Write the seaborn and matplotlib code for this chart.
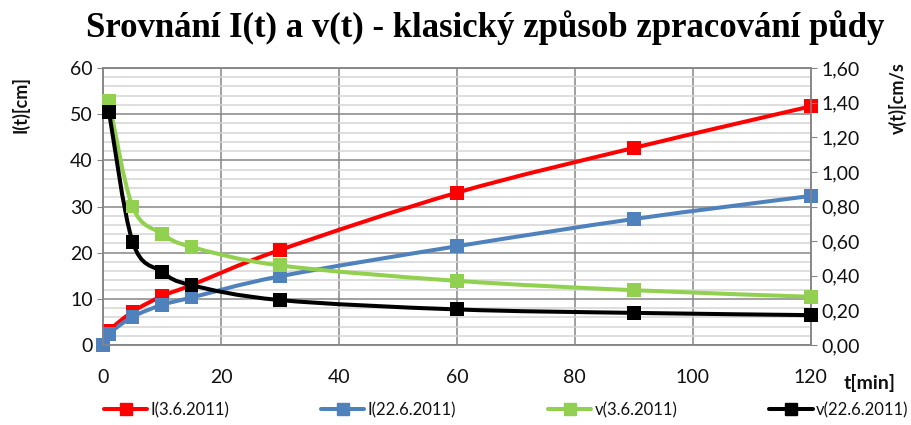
import numpy as np
import seaborn as sns
import matplotlib.pyplot as plt
from matplotlib.path import Path
from matplotlib.patches import PathPatch
from matplotlib.lines import Line2D
from matplotlib.ticker import MultipleLocator, FuncFormatter

sns.set_style("white")
plt.rcParams['font.family'] = ['Lato', 'DejaVu Sans']

# data
t_I = [0, 1, 5, 10, 15, 30, 60, 90, 120]
I_0306 = [0, 3.0, 7.2, 10.6, 13.0, 20.6, 33.0, 42.7, 51.7]
I_2206 = [0, 2.4, 6.1, 8.7, 10.3, 14.9, 21.4, 27.3, 32.3]
t_v = [1, 5, 10, 15, 30, 60, 90, 120]
v_0306 = [1.41, 0.80, 0.644, 0.567, 0.46, 0.371, 0.317, 0.279]
v_2206 = [1.347, 0.597, 0.423, 0.346, 0.26, 0.206, 0.186, 0.173]
labels = ['I(3.6.2011)', 'I(22.6.2011)', 'v(3.6.2011)', 'v(22.6.2011)']
colors = ['#ff0000', '#4f81bd', '#92d050', '#000000']


def smooth_patch(ax, x, y, color):
    # excel-like smoothed line drawn as bezier path through the points
    p = np.column_stack([x, y]).astype(float)
    verts = [p[0]]
    codes = [Path.MOVETO]
    n = len(p)
    for i in range(n - 1):
        prev = p[i - 1] if i > 0 else p[i]
        nxt = p[i + 2] if i + 2 < n else p[i + 1]
        c1 = p[i] + (p[i + 1] - prev) / 6
        c2 = p[i + 1] - (nxt - p[i]) / 6
        verts += [c1, c2, p[i + 1]]
        codes += [Path.CURVE4] * 3
    ax.add_patch(PathPatch(Path(verts, codes), fill=False, edgecolor=color,
                           lw=2.9, capstyle='round', joinstyle='round'))


fig, ax = plt.subplots(figsize=(9.12, 4.25), dpi=100)
fig.subplots_adjust(left=0.113, right=0.889, top=0.84, bottom=0.188)
ax2 = ax.twinx()

for yy, c in [(I_0306, colors[0]), (I_2206, colors[1])]:
    smooth_patch(ax, t_I, yy, c)
    sns.scatterplot(x=t_I, y=yy, marker='s', s=100, color=c, edgecolor='none',
                    ax=ax, zorder=3, clip_on=False)
for yy, c in [(v_0306, colors[2]), (v_2206, colors[3])]:
    smooth_patch(ax2, t_v, yy, c)
    sns.scatterplot(x=t_v, y=yy, marker='s', s=100, color=c, edgecolor='none',
                    ax=ax2, zorder=3, clip_on=False)

ax.set_xlim(0, 120)
ax.set_ylim(0, 60)
ax2.set_ylim(0, 1.6)
ax.xaxis.set_major_locator(MultipleLocator(20))
ax.yaxis.set_major_locator(MultipleLocator(10))
ax.yaxis.set_minor_locator(MultipleLocator(2))
ax2.yaxis.set_major_locator(MultipleLocator(0.2))
ax2.yaxis.set_major_formatter(FuncFormatter(lambda v, p: f'{v:.2f}'.replace('.', ',')))

ax.grid(True, which='major', axis='both', color='#868686', lw=1.1)
ax.grid(True, which='minor', axis='y', color='#d4d4d4', lw=1.1)
ax.set_axisbelow(True)
for a in (ax, ax2):
    for s in a.spines.values():
        s.set_color('#868686')
        s.set_linewidth(1.1)
ax.tick_params(axis='both', which='major', labelsize=14, colors='#868686',
               labelcolor='#111111', length=4, direction='out')
ax.tick_params(axis='y', which='minor', length=0)
ax.tick_params(axis='x', pad=13)
ax2.tick_params(axis='y', labelsize=14, colors='#868686', labelcolor='#111111',
                length=4, direction='out')

fig.text(0.022, 0.755, 'I(t)[cm]', rotation=90, ha='center', va='center',
         fontsize=13, fontweight='bold', color='#111111')
fig.text(0.984, 0.77, 'v(t)[cm/s', rotation=90, ha='center', va='center',
         fontsize=13, fontweight='bold', color='#111111')
fig.text(0.953, 0.098, 't[min]', ha='center', va='center',
         fontsize=14, fontweight='bold', color='#111111')

fig.suptitle('Srovnání I(t) a v(t) - klasický způsob zpracování půdy',
             x=0.532, y=0.975, fontsize=25, fontweight='bold', color='black',
             family='Liberation Serif')

handles = [Line2D([], [], color=c, lw=2.9, marker='s', markersize=8) for c in colors]
fig.legend(handles, labels, loc='center', ncol=4, bbox_to_anchor=(0.555, 0.035),
           frameon=False, fontsize=12, handlelength=2.6, handletextpad=0.2,
           columnspacing=5.5, labelcolor='#111111')

fig.savefig('out.png', dpi=100)
